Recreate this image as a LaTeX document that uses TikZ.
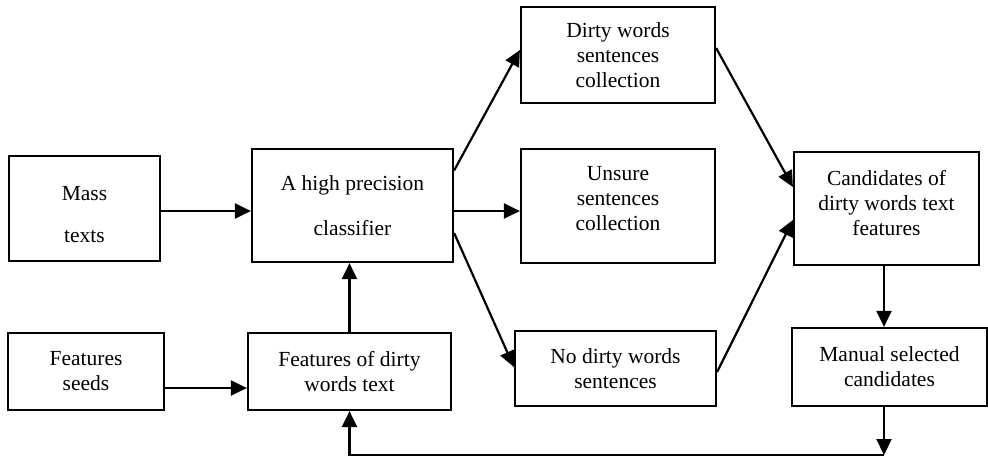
\documentclass[tikz,border=0pt]{standalone}
\usepackage{fontspec}
\setmainfont{Liberation Serif}
\usetikzlibrary{arrows.meta}
\newcommand{\shiftedtext}[2]{\raisebox{#1}[0pt][0pt]{\begin{tabular}{@{}c@{}}#2\end{tabular}}}
\begin{document}
\begin{tikzpicture}[x=1pt,y=-1pt,
  box/.style={draw=black,line width=2.2pt,inner sep=0pt,align=center,
    font=\fontsize{21.5}{25}\selectfont},
  arr/.style={line width=2.2pt,-{Triangle[length=16pt,width=15pt]}}]
\useasboundingbox (0,0) rectangle (988,459);
\node[box,minimum width=151pt,minimum height=105pt] (mass) at (84.5,208.5) {\shiftedtext{-13.4pt}{Mass\\[17pt]texts}};
\node[box,minimum width=201pt,minimum height=113pt] (clf) at (352.5,205.5) {A high precision\\[20pt]classifier};
\node[box,minimum width=194pt,minimum height=96pt] (dirty) at (618,55) {Dirty words\\sentences\\collection};
\node[box,minimum width=194pt,minimum height=114pt] (unsure) at (618,206) {\shiftedtext{0.6pt}{Unsure\\sentences\\collection}};
\node[box,minimum width=185pt,minimum height=113pt] (cand) at (886.5,208.5) {\shiftedtext{-2.4pt}{Candidates of\\dirty words text\\features}};
\node[box,minimum width=156pt,minimum height=77pt] (seeds) at (86,371.5) {Features\\seeds};
\node[box,minimum width=203pt,minimum height=77pt] (fdw) at (349.5,371.5) {Features of dirty\\words text};
\node[box,minimum width=201pt,minimum height=75pt] (nodirty) at (615.5,368.5) {No dirty words\\sentences};
\node[box,minimum width=195pt,minimum height=78pt] (manual) at (889.5,367) {Manual selected\\candidates};
\coordinate (fb) at (884,455);
% arrows
\draw[arr] ([yshift=-2.5pt]mass.east) -- ([yshift=-2.5pt]mass.east -| clf.west);
\draw[arr] ([yshift=35pt]clf.east) -- ([yshift=5pt]dirty.west);
\draw[arr] ([yshift=-5.5pt]clf.east) -- ([yshift=-5.5pt]clf.east -| unsure.west);
\draw[arr] ([yshift=-27.5pt]clf.east) -- ([yshift=1.5pt]nodirty.west);
\draw[arr] ([yshift=7pt]dirty.east) -- ([yshift=21.5pt]cand.west);
\draw[arr] ([yshift=-3.5pt]nodirty.east) -- ([yshift=-11.5pt]cand.west);
\draw[arr] ([yshift=-16.5pt]seeds.east) -- ([yshift=-16.5pt]seeds.east -| fdw.west);
\draw[arr] (fdw.north) -- (fdw.north |- clf.south);
\draw[arr] (cand.south -| fb) -- (manual.north -| fb);
\draw[arr] (manual.south -| fb) -- (fb);
\draw[arr] (fb) -- (fb -| fdw.south) -- (fdw.south);
\end{tikzpicture}
\end{document}
